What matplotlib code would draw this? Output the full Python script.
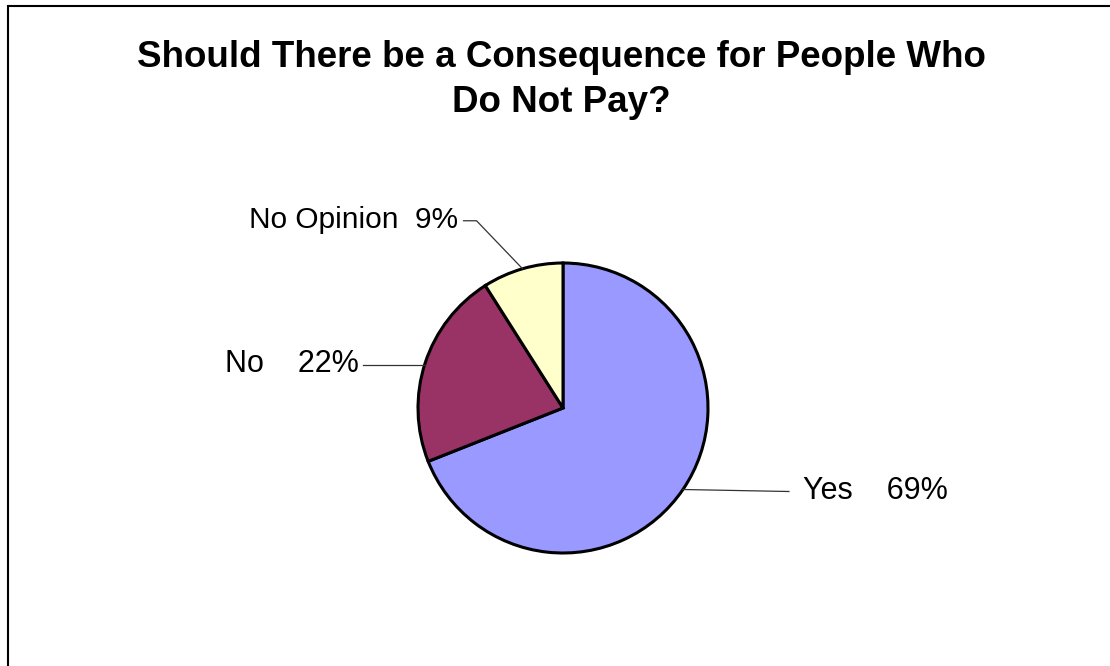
import numpy as np
import matplotlib.pyplot as plt
from matplotlib.patches import Rectangle

plt.rcParams["font.family"] = ["Liberation Sans", "DejaVu Sans"]

TITLE = "Should There be a Consequence for People Who\nDo Not Pay?"
labels = ["Yes", "No", "No Opinion"]
shares = [69, 22, 9]
colors = ["#9999FF", "#993366", "#FFFFCC"]
label_text = ["Yes    69%", "No    22%", "No Opinion  9%"]

W, H = 1110, 666
fig = plt.figure(figsize=(W / 100, H / 100), dpi=100)
ax = fig.add_axes([0, 0, 1, 1])

cx, cy, r = 563, H - 408, 145
wedges, _ = ax.pie(shares, colors=colors, startangle=90, counterclock=False,
                   center=(cx, cy), radius=r, frame=True,
                   wedgeprops=dict(edgecolor="black", linewidth=2.2))
ax.set_xlim(0, W)
ax.set_ylim(0, H)
ax.axis("off")

# leader lines start at the middle of each wedge's arc
for i, w in enumerate(wedges):
    mid = np.deg2rad((w.theta1 + w.theta2) / 2)
    ex, ey = cx + r * np.cos(mid), cy + r * np.sin(mid)
    if i == 0:
        tx, ty = ex + 106, ey - 2
        ax.plot([ex, tx], [ey, ty], color="#333333", lw=0.9)
        ax.text(tx + 14, ty + 1, label_text[i], fontsize=22, ha="left", va="center")
    elif i == 1:
        tx, ty = ex - 62, ey - 2
        ax.plot([ex, tx], [ty, ty], color="#333333", lw=0.9)
        ax.text(tx - 4, ty + 1, label_text[i], fontsize=22, ha="right", va="center")
    else:
        kx, ky = ex - 46, ey + 48
        tx = kx - 13
        ax.plot([ex, kx, tx], [ey, ky, ky], color="#333333", lw=0.9)
        ax.text(tx - 5, ky + 1, label_text[i], fontsize=21.5, ha="right", va="center")

fig.text(561 / W, 1 - 80 / H, TITLE, fontsize=26.5, fontweight="bold",
         ha="center", va="center", linespacing=1.38)

fig.patches.append(Rectangle((8 / W, -0.1), 1.2, 1 - 6 / H + 0.1,
                             transform=fig.transFigure, fill=False,
                             edgecolor="black", linewidth=1.5))

fig.savefig("out.png", dpi=100)
